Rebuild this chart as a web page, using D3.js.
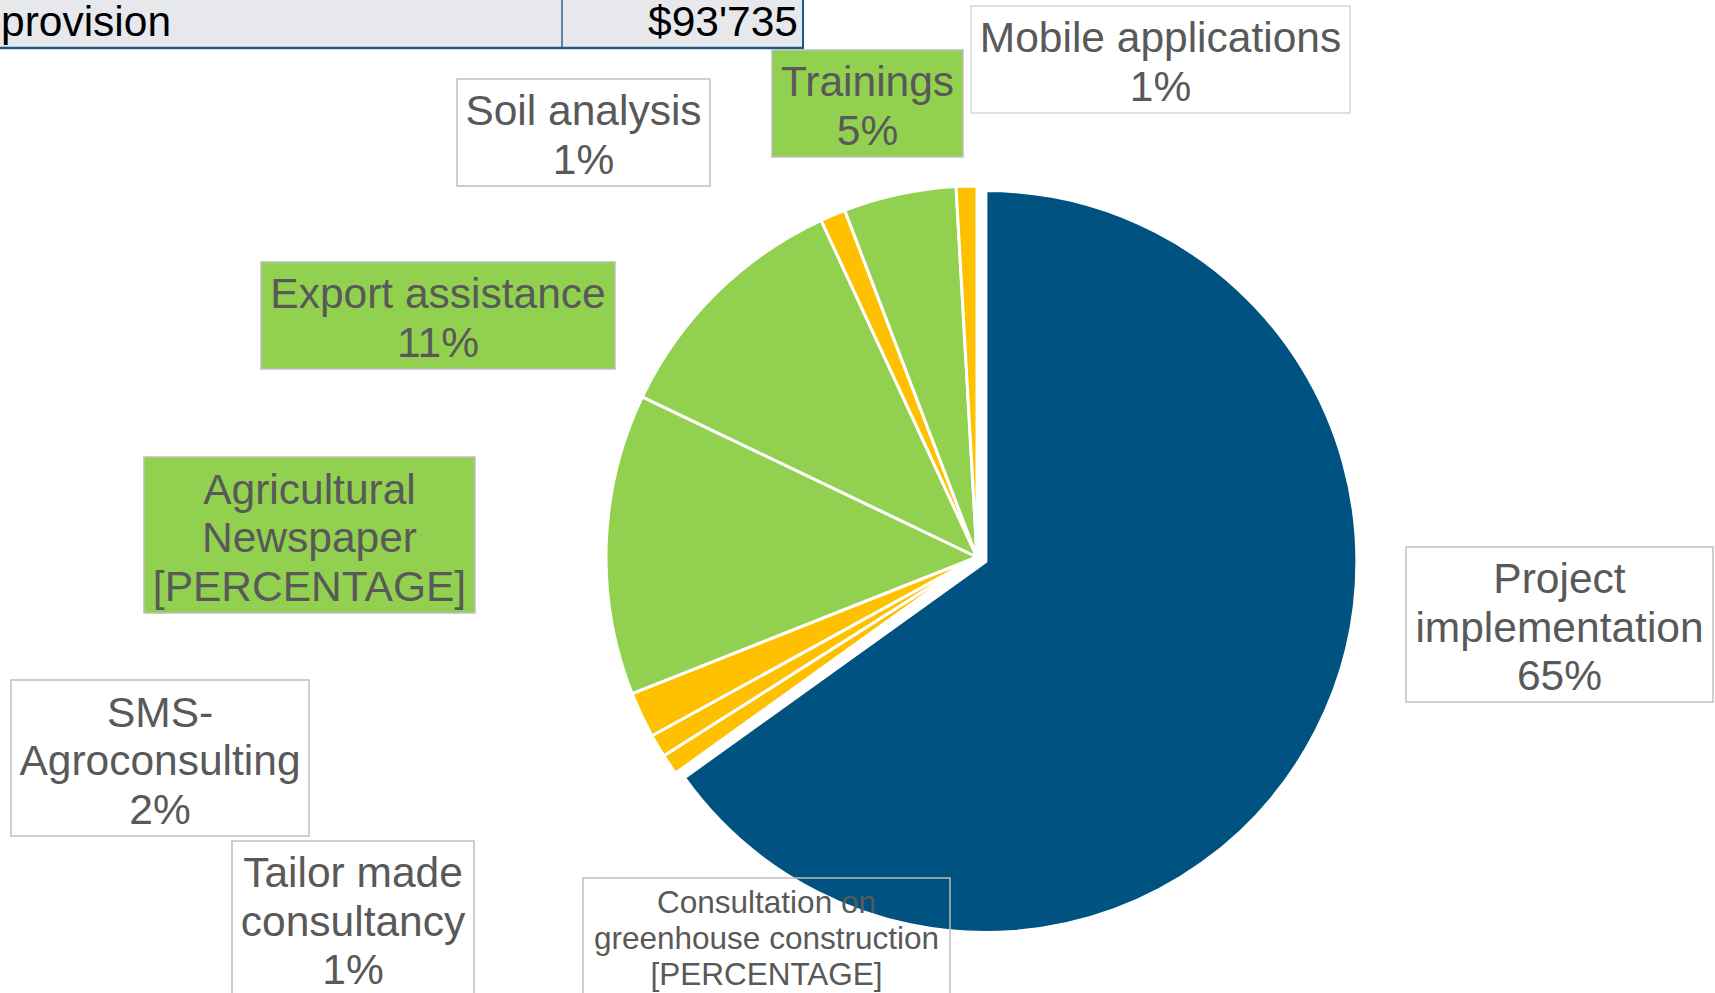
<!DOCTYPE html>
<html>
<head>
<meta charset="utf-8">
<script src="https://cdn.jsdelivr.net/npm/d3@7"></script>
<style>
  body { margin: 0; background: #fff; }
  svg { display: block; font-family: "Liberation Sans", Arial, sans-serif; }
</style>
</head>
<body>
<script>
// Data
const names = ["Project implementation", "Consultation on greenhouse construction", "Tailor made consultancy",
  "SMS-Agroconsulting", "Agricultural Newspaper", "Export assistance", "Soil analysis", "Trainings", "Mobile applications"];
const shares = [65.1, 0.9, 1.0, 2.0, 13.1, 11.0, 1.1, 4.9, 0.9];
const groups = ["core", "minor", "minor", "minor", "major", "major", "minor", "major", "minor"];
const labelLines = [
  ["Project", "implementation", "65%"],
  ["Consultation on", "greenhouse construction", "[PERCENTAGE]"],
  ["Tailor made", "consultancy", "1%"],
  ["SMS-", "Agroconsulting", "2%"],
  ["Agricultural", "Newspaper", "[PERCENTAGE]"],
  ["Export assistance", "11%"],
  ["Soil analysis", "1%"],
  ["Trainings", "5%"],
  ["Mobile applications", "1%"]
];
const tableCells = ["provision", "$93'735"];

// label boxes were placed by hand in the original, so keep them in a layout list
const boxes = [
  {x: 1406, y: 547, w: 307, h: 155, fill: "#fff", fs: 42.5, lh: 48.5},
  {x: 583, y: 878, w: 367, h: 116, fill: "none", fs: 31.5, lh: 36},
  {x: 232, y: 841, w: 242, h: 155, fill: "#fff", fs: 42.5, lh: 48.5},
  {x: 11, y: 680, w: 298, h: 156, fill: "#fff", fs: 42.5, lh: 48.5},
  {x: 144, y: 457, w: 331, h: 156, fill: "#92d050", fs: 42.5, lh: 48.5},
  {x: 261, y: 262, w: 354, h: 107, fill: "#92d050", fs: 42.5, lh: 48.5},
  {x: 457, y: 79, w: 253, h: 107, fill: "#fff", fs: 42.5, lh: 48.5},
  {x: 772, y: 50, w: 191, h: 107, fill: "#92d050", fs: 42.5, lh: 48.5},
  {x: 971, y: 6, w: 379, h: 107, fill: "#fff", fs: 42.5, lh: 48.5, stroke: "#cfdadd"}
];

const W = 1715, H = 993;
const cx = 977, cy = 557, radius = 371, explode = 10;

const svg = d3.select("body").append("svg")
  .attr("width", W)
  .attr("height", H);

// table fragment at the top
const table = svg.append("g");
table.append("rect")
  .attr("x", 0).attr("y", -2).attr("width", 803).attr("height", 50)
  .attr("fill", "#e7e8ec");
table.append("line")
  .attr("x1", 562).attr("x2", 562).attr("y1", 0).attr("y2", 48)
  .attr("stroke", "#2b6592").attr("stroke-width", 1.5);
table.append("line")
  .attr("x1", 803).attr("x2", 803).attr("y1", 0).attr("y2", 49)
  .attr("stroke", "#1b5a87").attr("stroke-width", 2);
table.append("line")
  .attr("x1", 0).attr("x2", 804).attr("y1", 48).attr("y2", 48)
  .attr("stroke", "#1b5a87").attr("stroke-width", 2.5);
table.append("text")
  .attr("x", 1).attr("y", 36)
  .style("font-size", "42.5px").attr("fill", "#000")
  .text(tableCells[0]);
table.append("text")
  .attr("x", 798).attr("y", 36)
  .attr("text-anchor", "end")
  .style("font-size", "42.5px").attr("fill", "#000")
  .text(tableCells[1]);

// pie
const color = d3.scaleOrdinal()
  .domain(["core", "major", "minor"])
  .range(["#005281", "#92d050", "#ffc000"]);

const pie = d3.pie().sort(null).value(d => d);
const arcs = pie(shares);
const arc = d3.arc().innerRadius(0).outerRadius(radius);

svg.append("g")
  .attr("transform", "translate(" + cx + "," + cy + ")")
  .selectAll("path")
  .data(arcs)
  .enter().append("path")
    .attr("d", arc)
    .attr("transform", function(d, i) {
      if (i !== 0) return null;
      const mid = (d.startAngle + d.endAngle) / 2;
      return "translate(" + (explode * Math.sin(mid)) + "," + (-explode * Math.cos(mid)) + ")";
    })
    .attr("fill", (d, i) => color(groups[i]))
    .attr("stroke", "#fff")
    .attr("stroke-width", 3)
    .attr("stroke-linejoin", "round");

// data labels
const labels = svg.append("g")
  .selectAll("g")
  .data(names.map((n, i) => ({name: n, lines: labelLines[i], box: boxes[i]})))
  .enter().append("g");

labels.append("rect")
  .attr("x", d => d.box.x)
  .attr("y", d => d.box.y)
  .attr("width", d => d.box.w)
  .attr("height", d => d.box.h)
  .attr("fill", d => d.box.fill)
  .attr("stroke", d => d.box.stroke || "#bfbfbf")
  .attr("stroke-width", 1.5);

labels.each(function(d) {
  const b = d.box;
  const n = d.lines.length;
  const first = b.y + (b.h - n * b.lh) / 2 + (b.lh - b.fs) / 2 + 0.905 * b.fs;
  d3.select(this).selectAll("text")
    .data(d.lines)
    .enter().append("text")
      .attr("x", b.x + b.w / 2)
      .attr("y", (t, j) => first + j * b.lh)
      .attr("text-anchor", "middle")
      .attr("fill", "#595959")
      .style("font-size", b.fs + "px")
      .text(t => t);
});
</script>
</body>
</html>
